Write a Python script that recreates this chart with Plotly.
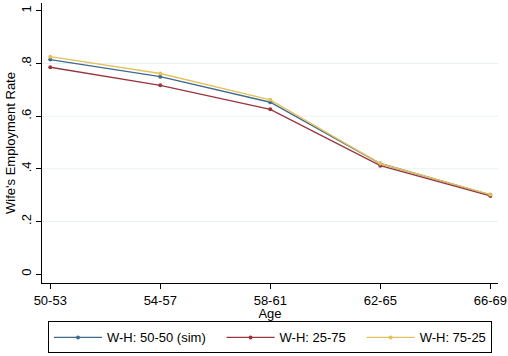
import plotly.graph_objects as go

# Age groups on the horizontal axis
age_groups = ["50-53", "54-57", "58-61", "62-65", "66-69"]

# Wife's employment rate by scenario
wh_50_50_sim = [0.815, 0.750, 0.653, 0.420, 0.301]
wh_25_75 = [0.786, 0.717, 0.626, 0.412, 0.297]
wh_75_25 = [0.826, 0.762, 0.662, 0.420, 0.302]

y_tick_vals = [0, 0.2, 0.4, 0.6, 0.8, 1]
y_tick_text = ["0", ".2", ".4", ".6", ".8", "1"]

# non-breaking spaces widen the gap between legend entries
pad = "\u00a0\u00a0\u00a0"
series = [
    ("W-H: 50-50 (sim)" + pad, wh_50_50_sim, "#3f6a8e"),
    ("W-H: 25-75" + pad, wh_25_75, "#983640"),
    ("W-H: 75-25", wh_75_25, "#e3c25c"),
]

fig = go.Figure()
for name, vals, color in series:
    fig.add_trace(go.Scatter(
        x=list(range(len(age_groups))), y=vals, name=name,
        mode="lines+markers",
        line=dict(color=color, width=1.4),
        marker=dict(color=color, size=4, symbol="circle"),
    ))

font = "Liberation Sans, Arial, Helvetica, sans-serif"
fig.update_layout(
    width=508, height=356,
    margin=dict(l=42, r=10, t=3, b=73, autoexpand=False),
    paper_bgcolor="white", plot_bgcolor="white",
    font=dict(family=font, size=13, color="black"),
    showlegend=True,
    legend=dict(
        orientation="h", x=0.5, xanchor="center",
        yref="container", y=0.097, yanchor="top",
        bordercolor="black", borderwidth=1, bgcolor="white",
        font=dict(size=13), itemwidth=48,
        tracegroupgap=0,
    ),
)
fig.update_xaxes(
    range=[-0.075, 4.07],
    tickmode="array", tickvals=list(range(len(age_groups))), ticktext=age_groups,
    ticks="outside", ticklen=5, tickcolor="black", tickwidth=1,
    showline=True, linecolor="black", linewidth=1,
    showgrid=False, zeroline=False,
    title=dict(text="Age", standoff=5, font=dict(size=13)),
)
fig.update_yaxes(
    range=[-0.034, 1.03],
    tickmode="array", tickvals=y_tick_vals, ticktext=y_tick_text,
    tickangle=-90,
    ticks="outside", ticklen=5, tickcolor="black", tickwidth=1,
    showline=True, linecolor="black", linewidth=1,
    showgrid=False, zeroline=False,
    title=dict(text="Wife's Employment Rate", standoff=0, font=dict(size=13)),
)
# Gridlines only at the inner ticks
for v in y_tick_vals[1:-1]:
    fig.add_hline(y=v, line=dict(color="#e9f0f2", width=1), layer="below")

fig.write_html("out.html")
